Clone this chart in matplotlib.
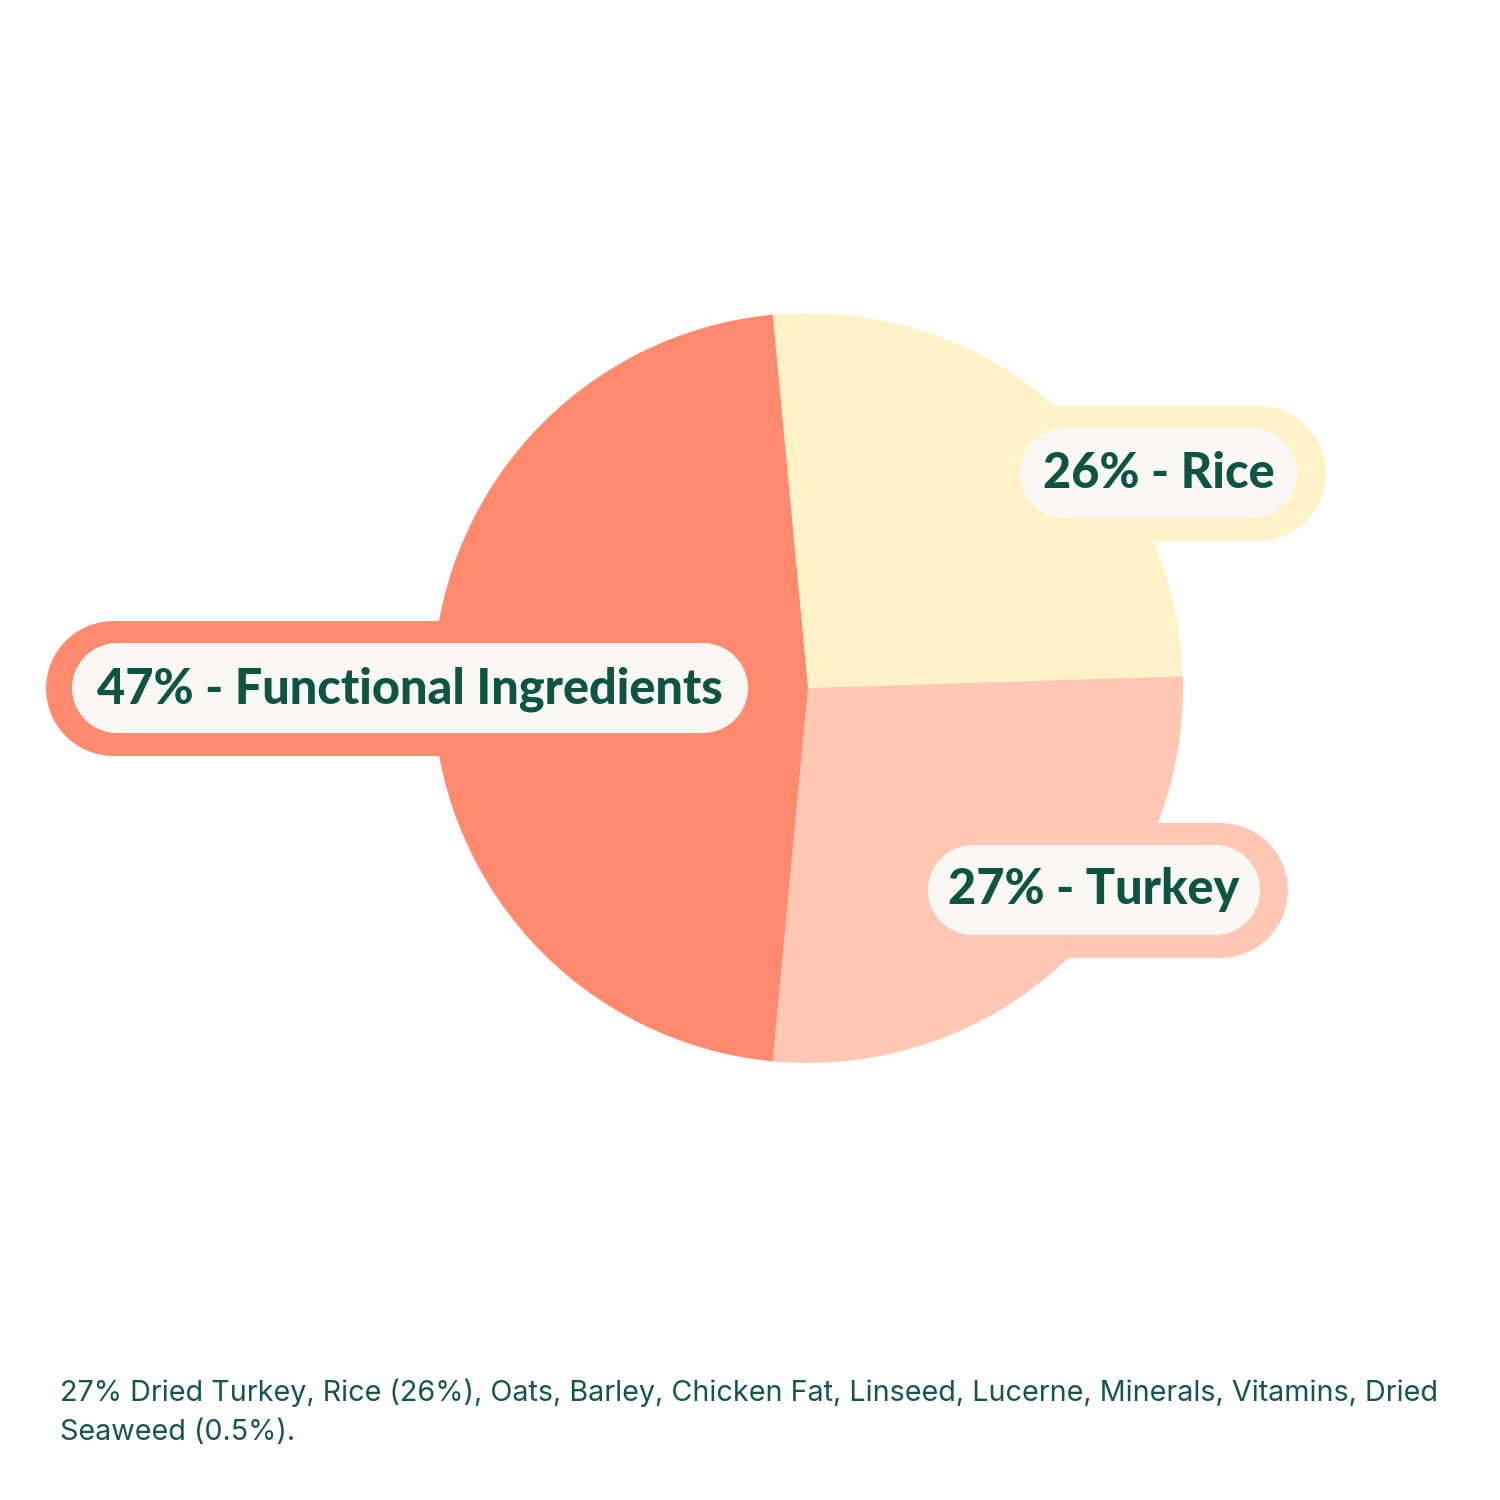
import matplotlib
matplotlib.use("Agg")
import matplotlib.pyplot as plt

# slice data, clockwise from the top
labels = ["Rice", "Turkey", "Functional Ingredients"]
shares = [26, 27, 47]
colors = ["#FFF1C8", "#FFC8B4", "#FF8A6D"]

ingredients = ["27% Dried Turkey, Rice (26%), Oats, Barley, Chicken Fat, Linseed, Lucerne, Minerals, Vitamins, Dried",
               "Seaweed (0.5%)."]

green = "#0D5443"
pill_bg = "#FAF8F5"

fig = plt.figure(figsize=(15, 15), dpi=100)
ax = fig.add_axes([0, 0, 1, 1])

H = 1500
cx, cy, r = 808, H - 688, 375

ax.pie(shares, colors=colors, startangle=95.4, counterclock=False,
       center=(cx, cy), radius=r, wedgeprops=dict(linewidth=0),
       frame=True)
ax.set_xlim(0, 1500)
ax.set_ylim(0, 1500)
ax.set_aspect("equal")
ax.axis("off")


def pill(x0, x1, ytop, ybot, color, z):
    # 1 data unit == 1 px, so a round-capped line makes a clean pill
    h = ybot - ytop
    rad = h / 2
    y = H - (ytop + ybot) / 2
    ax.plot([x0 + rad, x1 - rad], [y, y], color=color, lw=h * 72 / 100,
            solid_capstyle="round", zorder=z)


# outer coloured pills
pill(45, 790, 620, 755, colors[2], 3)
pill(900, 1325, 405, 540, colors[0], 3)
pill(850, 1287, 822, 957, colors[1], 3)

# inner light pills
pill(72, 748, 643, 733, pill_bg, 4)
pill(1020, 1297, 428, 518, pill_bg, 4)
pill(928, 1260, 845, 935, pill_bg, 4)

fkw = dict(family=["Lato", "DejaVu Sans"], weight=900, color=green,
           fontsize=35, va="center", ha="center", zorder=5)
ax.text((72 + 748) / 2, H - 689, "%d%% - %s" % (shares[2], labels[2]), **fkw)
ax.text((1020 + 1297) / 2, H - 473, "%d%% - %s" % (shares[0], labels[0]), **fkw)
ax.text((928 + 1260) / 2, H - 890, "%d%% - %s" % (shares[1], labels[1]), **fkw)

for i, line in enumerate(ingredients):
    ax.text(60, H - 1393 - 39 * i, line, family=["Inter", "DejaVu Sans"],
            fontsize=20.7, color="#14574A", va="center", ha="left")

fig.savefig("out.png", dpi=100, facecolor="white")
